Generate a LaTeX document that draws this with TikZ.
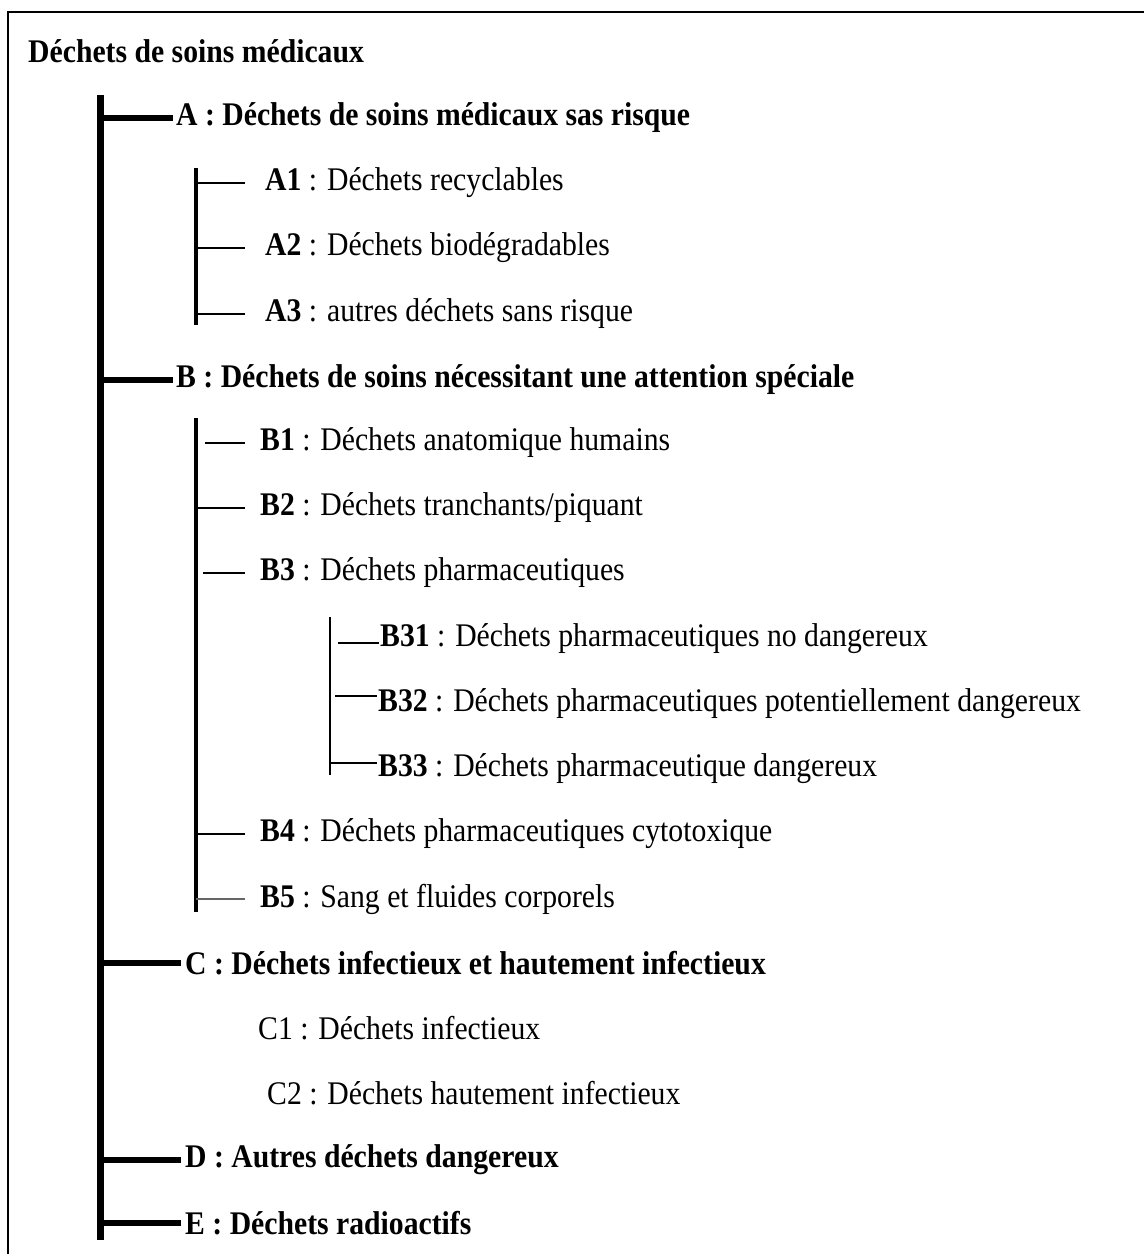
\documentclass[tikz,border=0pt]{standalone}
\usepackage{fontspec}
\setmainfont{Liberation Serif}[FakeStretch=0.9]
\begin{document}
\begin{tikzpicture}[x=1pt,y=-1pt,
  lbl/.style={anchor=west,inner sep=0pt,yshift=-3pt,font=\fontsize{33}{40}\selectfont},
  head/.style={anchor=west,inner sep=0pt,yshift=-3pt,font=\fontsize{33}{40}\selectfont\bfseries},
  trunkline/.style={line width=7pt},
  branch/.style={line width=6pt},
  subtrunk/.style={line width=4.5pt},
  thintrunk/.style={line width=2.5pt},
  tick/.style={line width=2pt},
  greytick/.style={line width=1.5pt,black!60}]
\useasboundingbox (0,0) rectangle (1144,1254);
\draw[line width=2pt] (8,1260) -- (8,12) -- (1150,12);
% title
\node[head] (T) at (28,48) {Déchets de soins médicaux};
% main trunk
\coordinate (M1) at (100,95);
\coordinate (M2) at (100,1240);
\draw[trunkline] (M1) -- (M2);
% A
\node[head] (A) at (176,115) {A : Déchets de soins médicaux sas risque};
\draw[branch] (A.west -| M1) -- ([xshift=-3pt]A.west);
\coordinate (SA1) at (196,168);
\coordinate (SA2) at (196,325);
\draw[subtrunk] (SA1) -- (SA2);
\node[lbl] (A1) at (265,180) {\textbf{A1} : Déchets recyclables};
\node[lbl] (A2) at (265,245) {\textbf{A2} : Déchets biodégradables};
\node[lbl] (A3) at (265,311) {\textbf{A3} : autres déchets sans risque};
\foreach \n in {A1,A2,A3}
  \draw[tick] (\n.west -| SA1) -- ([xshift=-20pt]\n.west);
% B
\node[head] (B) at (176,377) {B : Déchets de soins nécessitant une attention spéciale};
\draw[branch] (B.west -| M1) -- ([xshift=-3pt]B.west);
\coordinate (SB1) at (196,418);
\coordinate (SB2) at (196,912);
\draw[subtrunk] (SB1) -- (SB2);
\node[lbl] (B1) at (260,440) {\textbf{B1} : Déchets anatomique humains};
\node[lbl] (B2) at (260,505) {\textbf{B2} : Déchets tranchants/piquant};
\node[lbl] (B3) at (260,570) {\textbf{B3} : Déchets pharmaceutiques};
\node[lbl] (B4) at (260,831) {\textbf{B4} : Déchets pharmaceutiques cytotoxique};
\node[lbl] (B5) at (260,896) {\textbf{B5} : Sang et fluides corporels};
\draw[tick] ([xshift=9pt]B1.west -| SB1) -- ([xshift=-15pt]B1.west);
\draw[tick] (B2.west -| SB1) -- ([xshift=-15pt]B2.west);
\draw[tick] ([xshift=7pt]B3.west -| SB1) -- ([xshift=-15pt]B3.west);
\draw[tick] (B4.west -| SB1) -- ([xshift=-15pt]B4.west);
\draw[greytick] (B5.west -| SB1) -- ([xshift=-15pt]B5.west);
% B3 sub
\coordinate (SC1) at (330,617);
\coordinate (SC2) at (330,775);
\draw[thintrunk] (SC1) -- (SC2);
\node[lbl] (B31) at (380,636) {\textbf{B31} : Déchets pharmaceutiques no dangereux};
\node[lbl] (B32) at (378,701) {\textbf{B32} : Déchets pharmaceutiques potentiellement dangereux};
\node[lbl] (B33) at (378,766) {\textbf{B33} : Déchets pharmaceutique dangereux};
\draw[tick] ([shift={(8pt,-4pt)}]B31.west -| SC1) -- ([shift={(-1pt,-4pt)}]B31.west);
\draw[tick] ([shift={(5pt,8pt)}]B32.west -| SC1) -- ([shift={(-1pt,8pt)}]B32.west);
\draw[tick] ([yshift=6pt]B33.west -| SC2) -- ([shift={(-1pt,6pt)}]B33.west);
% C
\node[head] (C) at (185,960) {C : Déchets infectieux et hautement infectieux};
\draw[branch] ([xshift=3pt]C.west -| M1) -- ([xshift=-4pt]C.west);
\node[lbl] (C1) at (258,1025) {C1 : Déchets infectieux};
\node[lbl] (C2) at (267,1090) {C2 : Déchets hautement infectieux};
% D, E
\node[head] (D) at (185,1157) {D : Autres déchets dangereux};
\draw[branch] ([xshift=3pt]D.west -| M1) -- ([xshift=-4pt]D.west);
\node[head] (E) at (185,1220) {E : Déchets radioactifs};
\draw[branch] ([xshift=3pt]E.west -| M1) -- ([xshift=-4pt]E.west);
\end{tikzpicture}
\end{document}
